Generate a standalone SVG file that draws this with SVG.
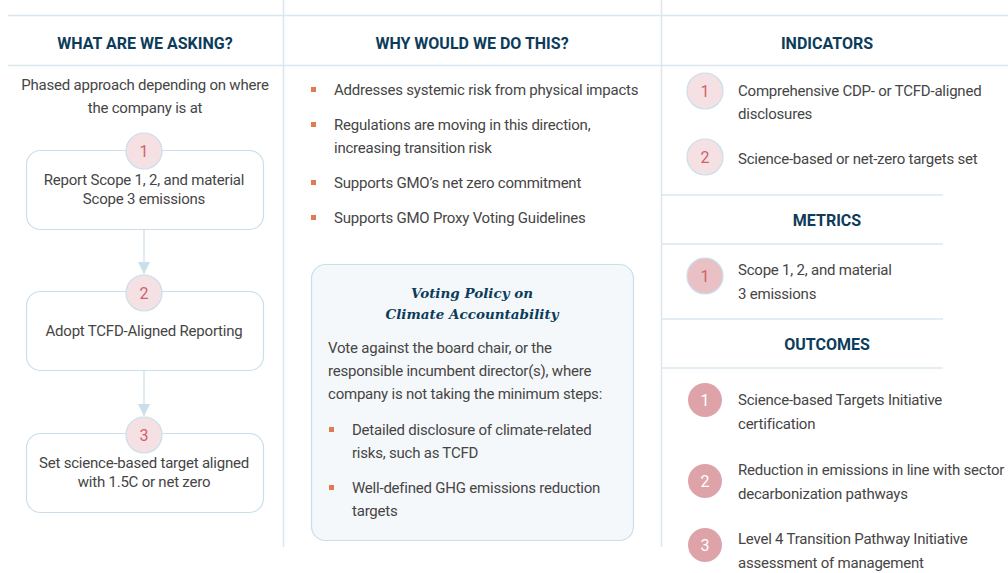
<svg xmlns="http://www.w3.org/2000/svg" width="1008" height="573" viewBox="0 0 1008 573">
<defs>
<style>
.t{font-family:Roboto,"Liberation Sans",sans-serif;font-size:15px;letter-spacing:-0.22px;fill:#454545}
.c{text-anchor:middle}
.h{font-family:Roboto,"Liberation Sans",sans-serif;font-size:16px;font-weight:bold;fill:#0d3c5b;text-anchor:middle}
.ln{stroke:#d8e7f0;stroke-width:1.5;fill:none}
.box{fill:#fff;stroke:#c9dfeb;stroke-width:1.2}
.num{fill:#f5e1e3;stroke:#c9dfeb;stroke-width:1.2}
.numt{font-family:Roboto,"Liberation Sans",sans-serif;font-size:16px;fill:#d0606b;text-anchor:middle}
.numw{font-family:Roboto,"Liberation Sans",sans-serif;font-size:16px;fill:#fff;text-anchor:middle}
.bul{fill:#e07b4f}
.vt{font-family:"DejaVu Serif","Liberation Serif",serif;font-size:13.5px;font-weight:bold;font-style:italic;fill:#0d3c5b;text-anchor:middle}
</style>
<marker id="ah" viewBox="0 0 10 10" refX="10" refY="5" markerWidth="12" markerHeight="12" markerUnits="userSpaceOnUse" orient="auto"><path d="M0,0 L10,5 L0,10 z" fill="#c9dfeb"/></marker>
</defs>
<rect width="1008" height="573" fill="#fff"/>
<g id="grid">
<line class="ln" x1="8" y1="15.5" x2="1008" y2="15.5"/>
<line class="ln" x1="8" y1="65.5" x2="1008" y2="65.5"/>
<line class="ln" x1="283.5" y1="0" x2="283.5" y2="547"/>
<line class="ln" x1="661.5" y1="0" x2="661.5" y2="547"/>
<line class="ln" x1="661" y1="195" x2="943" y2="195"/>
<line class="ln" x1="661" y1="244" x2="943" y2="244"/>
<line class="ln" x1="661" y1="319" x2="943" y2="319"/>
<line class="ln" x1="661" y1="368" x2="943" y2="368"/>
</g>
<g id="headers">
<text class="h" x="145" y="49">WHAT ARE WE ASKING?</text>
<text class="h" x="472" y="49">WHY WOULD WE DO THIS?</text>
<text class="h" x="827" y="49">INDICATORS</text>
<text class="h" x="827" y="226">METRICS</text>
<text class="h" x="827" y="350">OUTCOMES</text>
</g>
<g id="intro">
<text class="t c" x="145" y="90">Phased approach depending on where</text>
<text class="t c" x="145" y="113">the company is at</text>
</g>
<g id="connectors">
<line x1="144" y1="229" x2="144" y2="274" stroke="#c9dfeb" stroke-width="1.2" marker-end="url(#ah)"/>
<line x1="144" y1="370" x2="144" y2="416" stroke="#c9dfeb" stroke-width="1.2" marker-end="url(#ah)"/>
</g>
<g id="step1">
<rect class="box" x="26.5" y="150.5" width="237" height="79" rx="14"/>
<circle class="num" cx="144" cy="151" r="18"/>
<text class="numt" x="144" y="157">1</text>
<text class="t c" x="144" y="185">Report Scope 1, 2, and material</text>
<text class="t c" x="144" y="204">Scope 3 emissions</text>
</g>
<g id="step2">
<rect class="box" x="26.5" y="291.5" width="237" height="79" rx="14"/>
<circle class="num" cx="144" cy="293" r="18"/>
<text class="numt" x="144" y="299">2</text>
<text class="t c" x="144" y="336">Adopt TCFD-Aligned Reporting</text>
</g>
<g id="step3">
<rect class="box" x="26.5" y="433.5" width="237" height="79" rx="14"/>
<circle class="num" cx="144" cy="435" r="18"/>
<text class="numt" x="144" y="441">3</text>
<text class="t c" x="144" y="468">Set science-based target aligned</text>
<text class="t c" x="144" y="487">with 1.5C or net zero</text>
</g>
<g id="reasons">
<rect class="bul" x="311" y="87" width="5" height="5"/>
<text class="t" x="334" y="95">Addresses systemic risk from physical impacts</text>
<rect class="bul" x="311" y="122" width="5" height="5"/>
<text class="t" x="334" y="130">Regulations are moving in this direction,</text>
<text class="t" x="334" y="153">increasing transition risk</text>
<rect class="bul" x="311" y="180" width="5" height="5"/>
<text class="t" x="334" y="188">Supports GMO’s net zero commitment</text>
<rect class="bul" x="311" y="215" width="5" height="5"/>
<text class="t" x="334" y="223">Supports GMO Proxy Voting Guidelines</text>
</g>
<g id="voting">
<rect x="311.5" y="264.5" width="322" height="276" rx="14" fill="#f5f8fa" stroke="#c9dfeb" stroke-width="1.2"/>
<text class="vt" x="472" y="298">Voting Policy on</text>
<text class="vt" x="472" y="319">Climate Accountability</text>
<text class="t" x="328" y="353">Vote against the board chair, or the</text>
<text class="t" x="328" y="376">responsible incumbent director(s), where</text>
<text class="t" x="328" y="399">company is not taking the minimum steps:</text>
<rect class="bul" x="329" y="427" width="5" height="5"/>
<text class="t" x="352" y="435">Detailed disclosure of climate-related</text>
<text class="t" x="352" y="458">risks, such as TCFD</text>
<rect class="bul" x="329" y="485" width="5" height="5"/>
<text class="t" x="352" y="493">Well-defined GHG emissions reduction</text>
<text class="t" x="352" y="516">targets</text>
</g>
<g id="ind1">
<circle class="num" cx="705" cy="91" r="18"/>
<text class="numt" x="705" y="97">1</text>
<text class="t" x="738" y="96">Comprehensive CDP- or TCFD-aligned</text>
<text class="t" x="738" y="119">disclosures</text>
</g>
<g id="ind2">
<circle class="num" cx="705" cy="157" r="18"/>
<text class="numt" x="705" y="163">2</text>
<text class="t" x="738" y="164">Science-based or net-zero targets set</text>
</g>
<g id="met1">
<circle cx="705" cy="276" r="18" fill="#e9c1c5" stroke="#c9dfeb" stroke-width="1.2"/>
<text class="numt" x="705" y="282">1</text>
<text class="t" x="738" y="275">Scope 1, 2, and material</text>
<text class="t" x="738" y="299">3 emissions</text>
</g>
<g id="out1">
<circle cx="705" cy="400" r="17" fill="#dea3a8"/>
<text class="numw" x="705" y="406">1</text>
<text class="t" x="738" y="405">Science-based Targets Initiative</text>
<text class="t" x="738" y="429">certification</text>
</g>
<g id="out2">
<circle cx="705" cy="481" r="17" fill="#dea3a8"/>
<text class="numw" x="705" y="487">2</text>
<text class="t" x="738" y="475">Reduction in emissions in line with sector</text>
<text class="t" x="738" y="499">decarbonization pathways</text>
</g>
<g id="out3">
<circle cx="705" cy="545" r="17" fill="#dea3a8"/>
<text class="numw" x="705" y="551">3</text>
<text class="t" x="738" y="544">Level 4 Transition Pathway Initiative</text>
<text class="t" x="738" y="568">assessment of management</text>
</g>
</svg>
